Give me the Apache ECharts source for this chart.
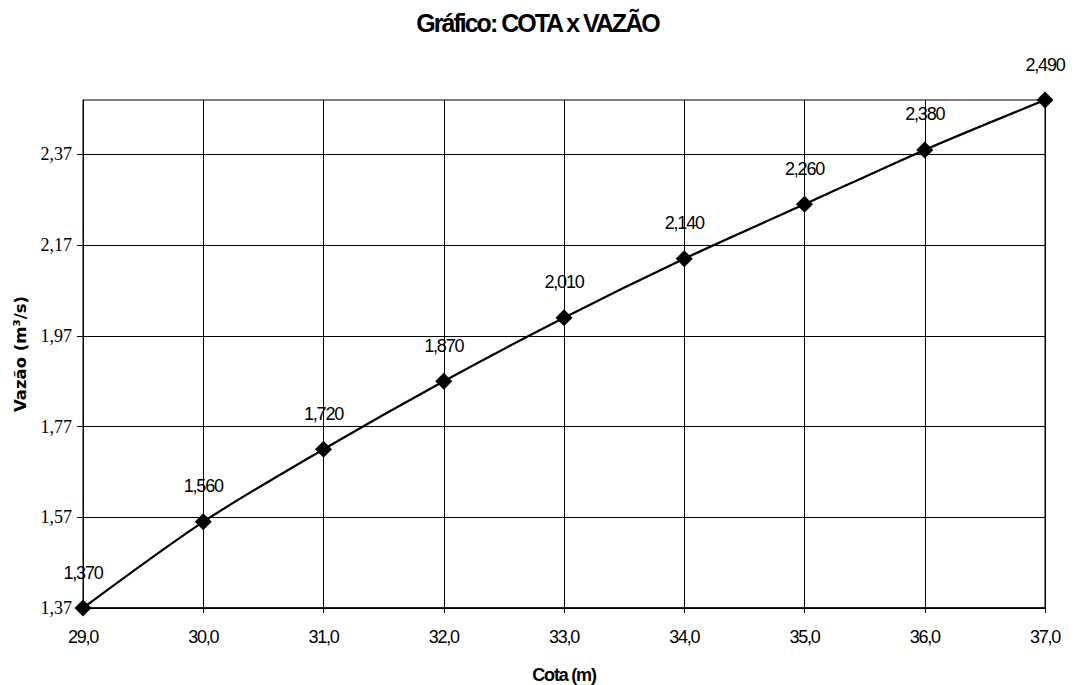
<!DOCTYPE html>
<html>
<head>
<meta charset="utf-8">
<script src="https://cdn.jsdelivr.net/npm/echarts@6/dist/echarts.min.js"></script>
<style>
html,body{margin:0;padding:0;background:#fff}
#c{width:1075px;height:685px}
#c text[style*="Liberation Sans"]{letter-spacing:-1.2px}
#c text[style*="Liberation Sans"][style*="25px"]{letter-spacing:-2px}
</style>
</head>
<body>
<div id="c"></div>
<script>
const cota = [29, 30, 31, 32, 33, 34, 35, 36, 37];
const vazao = [1.37, 1.56, 1.72, 1.87, 2.01, 2.14, 2.26, 2.38, 2.49];
const yTicks = [1.37, 1.57, 1.77, 1.97, 2.17, 2.37];

const fmt = (v, d) => v.toFixed(d).replace('.', ',');
const SANS = '"Liberation Sans", Arial, sans-serif';
const SERIF = '"Liberation Serif", "Times New Roman", serif';
const WIDE = '"DejaVu Sans", Verdana, sans-serif';

const chart = echarts.init(document.getElementById('c'), null, { renderer: 'svg' });
chart.setOption({
  backgroundColor: '#fff',
  animation: false,
  title: {
    text: 'Gráfico: COTA x VAZÃO',
    left: 'center', top: 5,
    textStyle: { fontFamily: SANS, fontSize: 25, fontWeight: 'bold', color: '#000' }
  },
  grid: { left: 83, right: 30, top: 100, bottom: 77, show: true, borderColor: '#000', borderWidth: 1,
    outerBoundsMode: 'none', containLabel: false },
  xAxis: {
    type: 'value', min: 29, max: 37, interval: 1,
    name: 'Cota (m)', nameLocation: 'middle', nameGap: 58,
    nameTextStyle: { fontFamily: SANS, fontSize: 18, fontWeight: 'bold', color: '#000' },
    axisLine: { show: true, lineStyle: { color: '#000', width: 1.5 } },
    axisTick: { show: true, inside: false, length: 5, lineStyle: { color: '#000' } },
    axisLabel: { fontFamily: SANS, fontSize: 18, color: '#000', margin: 20, formatter: v => fmt(v, 1) },
    splitLine: { show: true, lineStyle: { color: '#000', width: 1 } }
  },
  yAxis: {
    type: 'value', min: 1.37, max: 2.49, interval: 0.2,
    name: 'Vazão (m³/s)', nameLocation: 'middle', nameGap: 54, nameRotate: 90,
    nameTextStyle: { fontFamily: WIDE, fontSize: 16.5, fontWeight: 'bold', color: '#000' },
    axisLine: { show: true, lineStyle: { color: '#000', width: 1 } },
    axisTick: { show: true, length: 6, lineStyle: { color: '#000' }, customValues: yTicks },
    axisLabel: { fontFamily: SERIF, fontSize: 18, color: '#000', margin: 11, customValues: yTicks,
      formatter: v => fmt(v, 2) },
    splitLine: { show: true, lineStyle: { color: '#000', width: 1 } }
  },
  series: [{
    type: 'line',
    data: cota.map((c, i) => [c, vazao[i]]),
    smooth: 0.3,
    symbol: 'diamond', symbolSize: 17,
    lineStyle: { color: '#000', width: 2.2 },
    itemStyle: { color: '#000' },
    label: {
      show: true, position: 'top', distance: 18,
      fontFamily: SANS, fontSize: 18, color: '#000',
      formatter: p => fmt(p.value[1], 3)
    }
  }]
});
</script>
</body>
</html>
